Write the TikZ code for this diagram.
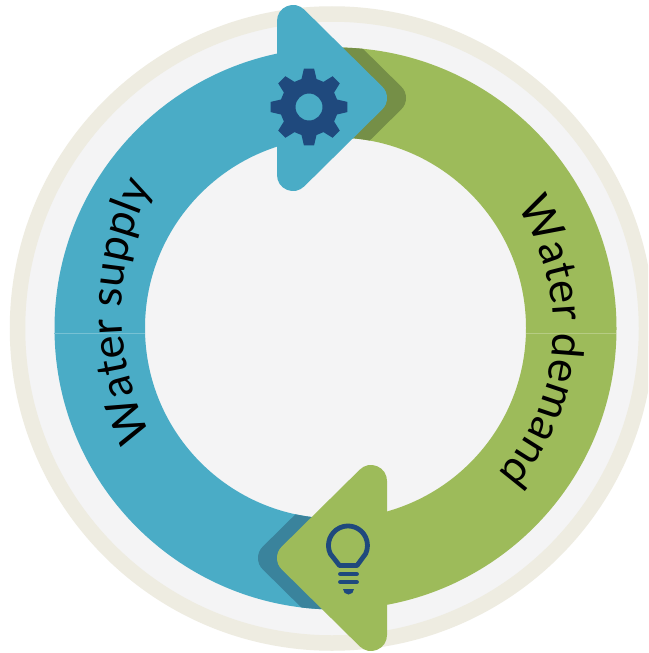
\documentclass[tikz,border=0pt]{standalone}
\usepackage{fontspec}
\setmainfont{Lato}
\usetikzlibrary{decorations.text}
\definecolor{ringblue}{HTML}{4AACC6}
\definecolor{ringgreen}{HTML}{9DBB5A}
\definecolor{shadowblue}{HTML}{3A839C}
\definecolor{shadowgreen}{HTML}{758F47}
\definecolor{beige}{HTML}{EEECE1}
\definecolor{panel}{HTML}{F4F4F5}
\definecolor{navy}{HTML}{1F497D}
\tikzset{
  roundarrow/.style={fill=#1,draw=#1,line width=32pt,line join=round},
  ringlabel/.style={decorate,decoration={text along path,text align=center,
    text={|\fontsize{44}{44}\selectfont|#1}}},
  seam/.style={line width=0.6pt,#1}
}
\begin{document}
\begin{tikzpicture}[x=1pt,y=1pt]
\useasboundingbox (0,-653) rectangle (648,0);
\clip (0,-653) rectangle (648,0);
\fill[white] (0,-653) rectangle (648,0);
% outer ring
\draw[beige,fill=panel,line width=15.5pt] (332,-328.5) circle[radius=314.5];
\coordinate (c) at (335.5,-328);
% ring halves
\def\annL{(335.5,-47.5) arc[start angle=90,end angle=270,radius=281] -- (335.5,-518.5) arc[start angle=270,end angle=90,radius=190.5] -- cycle}
\def\annR{(335.5,-47.5) arc[start angle=90,end angle=-90,radius=281] -- (335.5,-518.5) arc[start angle=-90,end angle=90,radius=190.5] -- cycle}
\fill[ringblue] \annL;
\fill[ringgreen] \annR;
% seams
\draw[seam=ringblue!75!white] (54,-333) -- (145,-333);
\draw[seam=ringgreen!75!white] (526,-333) -- (616,-333);
% shadows
\begin{scope}
  \clip \annR;
  \draw[roundarrow=shadowgreen] (312,-21) -- (390,-98) -- (312,-175) -- cycle;
\end{scope}
\begin{scope}
  \clip \annL;
  \draw[roundarrow=shadowblue] (352,-481) -- (274,-558) -- (352,-635) -- cycle;
\end{scope}
% arrows
\draw[roundarrow=ringblue] (293,-21) -- (371,-98) -- (293,-175) -- cycle;
\draw[roundarrow=ringgreen] (371,-481) -- (293,-558) -- (371,-635) -- cycle;
% gear
\begin{scope}[shift={(309,-107)}]
  \fill[navy,even odd rule]
    (-7.5:38.8)
    \foreach \a in {0,45,...,315}{
      -- ({\a-7.5}:38.8) -- ({\a+7.5}:38.8) -- ({\a+15}:29) -- ({\a+30}:29)
    } -- cycle
    (0,0) circle[radius=13.5];
\end{scope}
% bulb
\draw[navy,line width=4.8pt,line join=round]
  (339.5,-565.5) -- (330.3,-553.7) arc[start angle=205,end angle=-25,radius=19.5] -- (357,-565.5) -- cycle;
\draw[navy,line width=4.8pt,line cap=round] (340.5,-574) -- (356.5,-574);
\draw[navy,line width=4.8pt,line cap=round] (340.5,-582) -- (356.5,-582);
\fill[navy] (343,-589) -- (354,-589) arc[start angle=0,end angle=-180,radius=5.5] -- cycle;
% labels
\path[ringlabel={Water supply}] (402,-311) ++(225:280) arc[start angle=225,end angle=135,radius=280];
\path[ringlabel={Water demand}] (335.5,-328) ++(57:218) arc[start angle=57,end angle=-65,radius=218];
\end{tikzpicture}
\end{document}
